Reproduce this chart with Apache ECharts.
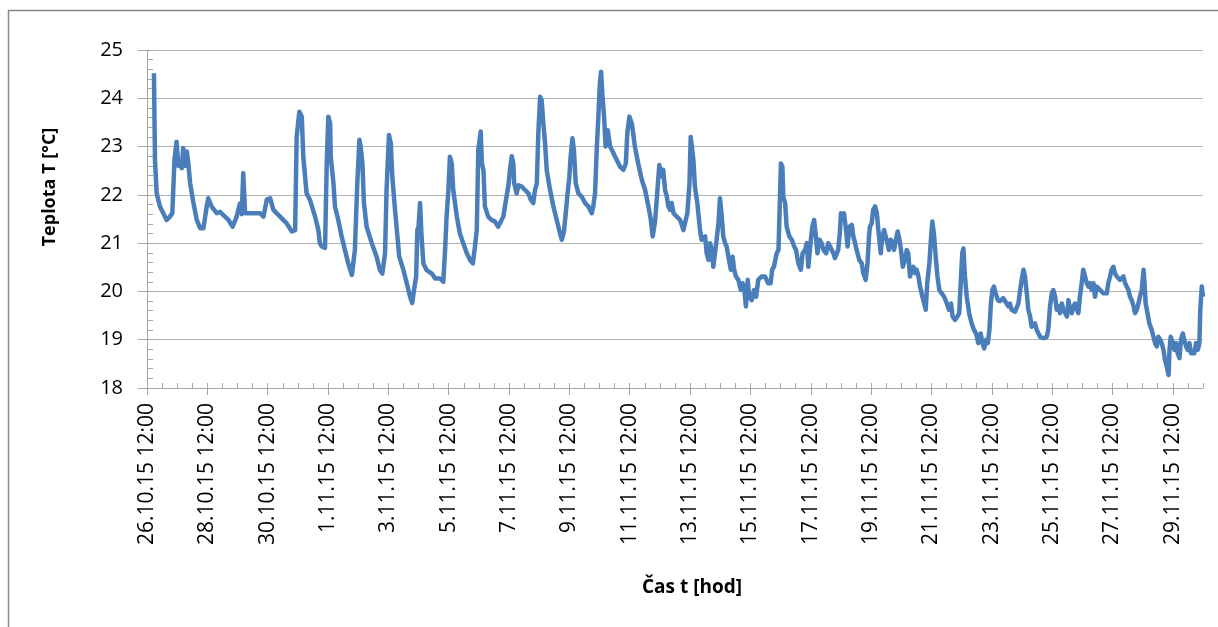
<!DOCTYPE html>
<html>
<head>
<meta charset="utf-8">
<script src="https://cdn.jsdelivr.net/npm/echarts@6/dist/echarts.min.js"></script>
<style>
html,body{margin:0;padding:0;background:#fff;}
#chart{width:1218px;height:627px;}
</style>
</head>
<body>
<div id="chart"></div>
<script>
// time offset in days from 26.10.2015 12:00
const days = [
0.23,0.265,0.32,0.43,0.54,0.65,0.76,0.84,0.91,0.98,1.04,1.09,1.15,1.20,1.26,1.32,1.37,1.43,1.54,1.65,1.76,1.87,1.98,2.03,2.14,2.31,2.42,2.53,2.70,2.84,2.97,3.08,3.14,3.19,3.25,3.41,3.75,3.86,3.97,4.08,4.19,4.41,4.63,4.80,4.91,4.96,5.05,5.13,5.18,5.29,5.40,
5.57,5.68,5.73,5.79,5.90,5.93,5.96,6.01,6.07,6.09,6.18,6.23,6.34,6.45,6.56,6.67,6.79,6.84,6.89,6.95,6.97,7.04,7.08,7.14,7.19,7.28,7.45,7.61,7.72,7.80,7.89,7.94,8.02,8.08,8.13,8.22,8.30,8.36,8.50,8.61,8.72,8.79,8.85,8.92,8.96,9.00,9.05,9.10,9.16,9.27,9.44,9.55,9.71,9.82,9.88,9.93,9.99,10.04,10.10,10.15,10.27,10.37,10.48,10.60,10.71,10.80,10.87,10.93,10.98,11.06,11.10,11.15,11.20,11.31,11.37,
11.42,11.53,11.64,11.70,11.81,11.90,11.98,12.03,12.09,12.14,12.17,12.25,12.31,12.42,12.53,12.64,12.72,12.80,12.86,12.92,12.97,13.03,13.08,13.14,13.19,13.25,13.36,13.47,13.58,13.69,13.75,13.82,13.89,13.94,14.00,14.04,14.10,14.15,14.21,14.30,14.41,14.52,14.63,14.74,14.79,14.85,14.91,14.96,15.01,15.05,15.09,15.15,15.20,15.27,15.35,15.46,15.57,15.68,15.79,15.87,15.92,15.99,16.07,16.17,16.28,16.40,16.51,16.62,16.70,16.76,
16.84,16.91,16.98,17.06,17.11,17.17,17.23,17.28,17.34,17.39,17.45,17.56,17.67,17.78,17.83,17.91,17.98,18.02,18.05,18.11,18.16,18.24,18.33,18.38,18.50,18.55,18.61,18.66,18.72,18.77,18.83,18.88,18.94,18.99,19.05,19.10,19.16,19.21,19.27,19.35,19.41,19.46,19.52,19.60,19.68,19.74,19.80,19.85,19.91,19.96,20.04,20.12,20.19,20.26,20.37,20.48,20.59,20.67,20.72,20.78,20.87,20.93,20.98,21.01,21.06,21.09,21.15,21.20,21.29,21.37,21.45,21.51,21.59,21.67,21.73,21.81,21.87,21.92,21.98,22.05,22.11,22.17,22.22,22.29,22.36,22.42,22.51,22.58,22.64,
22.69,22.75,22.80,22.86,22.91,22.97,23.00,23.06,23.10,23.17,23.22,23.28,23.36,23.41,23.47,23.52,23.61,23.69,23.74,23.82,23.88,23.93,23.96,24.02,24.07,24.13,24.19,24.24,24.32,24.37,24.43,24.48,24.54,24.59,24.65,24.70,24.76,24.82,24.88,24.94,24.99,25.05,25.12,25.18,25.23,25.29,25.35,25.40,25.46,25.51,25.57,25.62,25.70,25.76,25.81,25.86,25.93,25.99,26.03,26.09,26.14,26.20,26.26,26.34,26.42,26.51,26.58,26.65,26.70,26.78,26.86,26.92,26.97,27.02,27.06,27.11,27.17,27.25,27.33,27.41,27.48,27.55,27.63,27.69,27.75,27.81,27.87,27.92,27.97,28.02,28.07,28.13,28.20,28.27,
28.38,28.49,28.55,28.60,28.66,28.77,28.88,28.94,28.99,29.05,29.10,29.16,29.21,29.27,29.32,29.43,29.49,29.60,29.71,29.82,29.87,29.93,29.99,30.04,30.10,30.15,30.21,30.26,30.32,30.37,30.43,30.49,30.54,30.59,30.65,30.70,30.76,30.82,30.87,30.92,30.98,31.03,31.09,31.15,31.20,31.26,31.31,31.37,31.42,31.48,31.59,31.70,31.81,31.86,31.92,31.97,32.03,32.08,32.14,32.25,32.36,32.42,32.47,32.53,32.58,32.64,32.70,32.75,32.81,32.86,32.91,32.97,33.03,33.06,33.10,33.16,33.22,33.30,33.36,33.41,33.47,33.52,33.58,33.63,33.69,33.74,33.80,33.86,33.89,33.93,34.00,34.05,34.11,34.16,34.22,34.27,34.33,34.38,34.44,34.49,34.55,34.60,34.66,34.71,34.77,34.83,34.88,34.91,34.96,35.00
];
// temperature in °C
const temps = [
24.52,22.72,22.03,21.76,21.62,21.48,21.55,21.62,22.72,23.10,22.60,22.70,22.55,22.97,22.60,22.90,22.65,22.24,21.83,21.48,21.31,21.31,21.76,21.93,21.76,21.62,21.65,21.58,21.48,21.34,21.55,21.82,21.60,22.45,21.62,21.62,21.62,21.55,21.90,21.93,21.69,21.55,21.41,21.24,21.27,23.20,23.72,23.62,22.79,22.03,21.90,
21.55,21.27,21.00,20.93,20.90,20.93,22.72,23.62,23.48,22.79,22.24,21.76,21.48,21.14,20.86,20.58,20.34,20.38,20.86,20.86,22.24,23.14,23.00,22.65,21.83,21.34,21.00,20.72,20.44,20.37,20.79,22.10,23.24,23.07,22.38,21.69,21.14,20.72,20.44,20.17,19.89,19.76,20.03,20.30,21.27,21.34,21.83,21.14,20.58,20.44,20.37,20.27,20.27,20.20,20.86,21.55,22.10,22.79,22.65,22.10,21.55,21.20,21.00,20.79,20.65,20.58,20.93,21.27,22.93,23.31,22.65,22.52,21.76,21.55,21.52,
21.48,21.45,21.34,21.38,21.55,21.90,22.20,22.52,22.80,22.65,22.24,22.03,22.20,22.17,22.10,22.03,21.90,21.83,22.10,22.24,23.28,24.03,23.96,23.45,23.10,22.50,22.10,21.76,21.48,21.20,21.07,21.24,21.69,22.03,22.38,22.79,23.17,22.93,22.24,22.03,21.96,21.83,21.76,21.62,21.76,22.03,23.00,23.62,24.31,24.55,24.10,23.62,23.00,23.34,23.00,22.86,22.72,22.58,22.52,22.65,23.28,23.62,23.48,23.00,22.65,22.31,22.10,21.76,21.48,21.14,
21.45,22.03,22.62,22.38,22.52,22.10,21.96,21.76,21.69,21.83,21.62,21.55,21.48,21.27,21.41,21.62,22.24,23.20,23.24,22.72,22.17,21.83,21.27,21.07,21.14,20.79,20.65,21.00,20.86,20.51,20.51,21.07,21.41,21.93,21.55,21.14,21.00,20.93,20.72,20.45,20.72,20.45,20.31,20.24,20.03,20.17,20.03,19.69,20.24,19.89,19.82,20.03,19.89,20.24,20.31,20.31,20.17,20.17,20.45,20.51,20.79,20.86,21.96,22.65,22.58,21.96,21.83,21.34,21.14,21.07,20.93,20.86,20.58,20.45,20.79,20.86,21.00,20.51,20.93,21.34,21.48,21.14,20.79,21.07,21.00,20.86,20.79,21.00,20.93,
20.86,20.79,20.69,20.65,20.86,21.27,21.62,21.48,21.62,21.27,20.93,21.34,21.38,21.14,21.00,20.86,20.65,20.58,20.38,20.24,20.58,21.14,21.34,21.41,21.69,21.76,21.62,21.27,20.79,21.14,21.27,21.24,21.00,20.86,21.07,21.00,20.86,21.07,21.24,21.07,20.86,20.51,20.65,20.86,20.79,20.31,20.45,20.51,20.38,20.45,20.31,20.10,19.89,19.75,19.62,20.17,20.58,21.14,21.45,21.14,20.72,20.31,20.03,19.96,19.89,19.75,19.62,19.75,19.48,19.41,19.48,19.55,20.17,20.79,20.89,20.31,19.89,19.55,19.34,19.20,19.13,18.93,19.13,18.93,18.82,19.00,18.93,19.20,19.75,20.03,20.10,19.96,19.82,19.80,
19.86,19.75,19.69,19.75,19.62,19.58,19.75,20.03,20.24,20.45,20.31,19.96,19.62,19.48,19.27,19.34,19.20,19.06,19.03,19.06,19.20,19.69,19.96,20.03,19.89,19.62,19.69,19.55,19.75,19.62,19.62,19.48,19.82,19.62,19.55,19.69,19.75,19.62,19.55,19.89,20.17,20.45,20.31,20.17,20.10,20.17,20.03,20.17,19.89,20.10,20.03,19.96,19.96,20.17,20.31,20.45,20.51,20.38,20.31,20.24,20.31,20.17,20.10,20.03,19.89,19.82,19.69,19.55,19.62,19.75,19.89,20.03,20.45,20.17,19.75,19.55,19.34,19.20,19.06,18.93,18.86,19.06,19.00,18.93,18.79,18.58,18.44,18.27,18.79,19.06,18.93,18.79,18.93,18.72,18.62,19.00,19.13,19.00,18.86,18.79,18.93,18.72,18.76,18.72,18.93,18.79,18.93,19.62,20.10,19.89
];
const startDate = Date.UTC(2015, 9, 26, 12, 0);
const yTitle = 'Teplota T [°C]';
const xTitle = 'Čas t [hod]';

function dayLabel(v) {
  const d = new Date(startDate + Math.round(v * 86400000));
  const yy = String(d.getUTCFullYear()).slice(2);
  const hh = String(d.getUTCHours()).padStart(2, '0');
  const mm = String(d.getUTCMinutes()).padStart(2, '0');
  return d.getUTCDate() + '.' + (d.getUTCMonth() + 1) + '.' + yy + ' ' + hh + ':' + mm;
}

const data = days.map((d, i) => [d, temps[i]]);
const FONT = '"Open Sans", "Noto Sans", sans-serif';
const axisGray = '#a6a6a6';

const chart = echarts.init(document.getElementById('chart'), null, {renderer: 'canvas'});
chart.setOption({
  animation: false,
  backgroundColor: '#ffffff',
  grid: {left: 147, right: 15, top: 50, bottom: 239, containLabel: false},
  xAxis: [{
    type: 'value', min: 0, max: 35, interval: 2,
    axisLine: {show: true, lineStyle: {color: axisGray, width: 1}},
    axisTick: {show: true, inside: false, length: 7, lineStyle: {color: axisGray}},
    axisLabel: {rotate: 90, margin: 15, color: '#000', fontSize: 21, fontFamily: FONT, formatter: dayLabel, showMaxLabel: false},
    splitLine: {show: false}
  }, {
    type: 'value', min: 0, max: 35, interval: 0.5, position: 'bottom',
    axisLine: {show: false},
    axisTick: {show: true, inside: true, length: 5, lineStyle: {color: axisGray}},
    axisLabel: {show: false},
    splitLine: {show: false}
  }],
  yAxis: [{
    type: 'value', min: 18, max: 25, interval: 1,
    axisLine: {show: true, lineStyle: {color: axisGray, width: 1}},
    axisTick: {show: true, inside: false, length: 9, lineStyle: {color: axisGray}},
    axisLabel: {margin: 24, color: '#000', fontSize: 20, fontFamily: FONT},
    splitLine: {show: true, lineStyle: {color: '#b3b3b3', width: 1}}
  }, {
    type: 'value', min: 18, max: 25, interval: 0.2, position: 'left',
    axisLine: {show: false},
    axisTick: {show: true, inside: true, length: 6, lineStyle: {color: axisGray}},
    axisLabel: {show: false},
    splitLine: {show: false}
  }],
  series: [{
    type: 'line',
    xAxisIndex: 0, yAxisIndex: 0,
    data: data,
    showSymbol: false,
    lineStyle: {color: '#4a7ebb', width: 4.5, join: 'round'},
    itemStyle: {color: '#4a7ebb'}
  }],
  graphic: [
    {type: 'rect', silent: true, shape: {x: 8.5, y: 10.5, width: 1400, height: 800},
     style: {fill: 'none', stroke: '#888888', lineWidth: 1.5}},
    {type: 'text', x: 50, y: 187, rotation: Math.PI / 2,
     style: {text: yTitle, font: 'bold 18px ' + FONT, fill: '#000', textAlign: 'center', textVerticalAlign: 'middle'}},
    {type: 'text', x: 692, y: 588,
     style: {text: xTitle, font: 'bold 19px ' + FONT, fill: '#000', textAlign: 'center', textVerticalAlign: 'middle'}}
  ]
});
</script>
</body>
</html>
